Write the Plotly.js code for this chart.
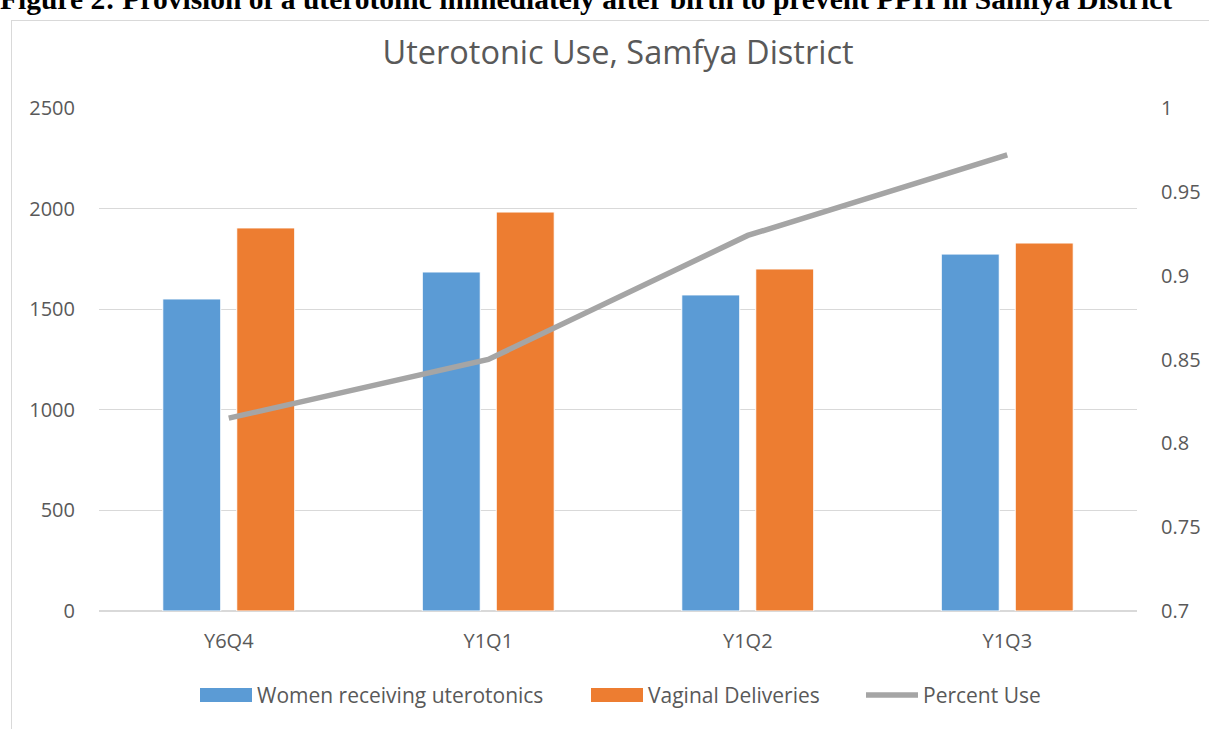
<!DOCTYPE html>
<html>
<head>
<meta charset="utf-8">
<script src="https://cdn.plot.ly/plotly-3.0.1.min.js"></script>
<style>
  html, body { margin: 0; padding: 0; background: #ffffff; overflow: hidden; }
  #caption {
    position: absolute; left: 0px; top: -16px; white-space: nowrap;
    font-family: "Liberation Serif", "Times New Roman", serif; font-weight: bold;
    font-size: 29.5px; line-height: 30px; color: #000000;
  }
  #frame {
    position: absolute; left: 11px; top: 20px; width: 1400px; height: 900px;
    border: 1px solid #d9d9d9; box-sizing: border-box;
  }
  #chart { position: absolute; left: 0; top: 0; width: 1209px; height: 729px; }
</style>
</head>
<body>
<div id="caption">Figure 2: Provision of a uterotonic immediately after birth to prevent PPH in Samfya District</div>
<div id="frame"></div>
<div id="chart"></div>
<script>
// ---- data ----
const categories = ["Y6Q4", "Y1Q1", "Y1Q2", "Y1Q3"];
const womenReceiving = [1551, 1685, 1571, 1774];
const vaginalDeliveries = [1904, 1983, 1700, 1829];
const percentUse = [0.815, 0.850, 0.924, 0.972];
const seriesNames = ["Women receiving uterotonics", "Vaginal Deliveries", "Percent Use"];
const leftTicks = [0, 500, 1000, 1500, 2000, 2500];
const rightTickVals = [0.7, 0.75, 0.8, 0.85, 0.9, 0.95, 1];
const rightTickText = ["0.7", "0.75", "0.8", "0.85", "0.9", "0.95", "1"];

// ---- style ----
const BLUE = "#5b9bd5", ORANGE = "#ed7d31", GRAY = "#a5a5a5", TXT = "#595959", GRID = "#d9d9d9";
const FONT = "Open Sans, Liberation Sans, sans-serif";

// plot area geometry in pixels
const W = 1209, H = 729, L = 99, R = 1137, T = 108, B = 611;
const px = x => (x - L) / (R - L);
const py = y => (B - y) / (B - T);

const traces = [
  { type: "bar", name: seriesNames[0], x: categories, y: womenReceiving,
    marker: { color: BLUE, line: { color: "#ffffff", width: 1 } }, hoverinfo: "skip" },
  { type: "bar", name: seriesNames[1], x: categories, y: vaginalDeliveries,
    marker: { color: ORANGE, line: { color: "#ffffff", width: 1 } }, hoverinfo: "skip" },
  { type: "scatter", mode: "lines", name: seriesNames[2], x: categories, y: percentUse,
    yaxis: "y2", line: { color: GRAY, width: 5.5 }, hoverinfo: "skip" }
];

// custom legend (swatches + labels)
const legY = 695;
const legendItems = [
  { kind: "rect", color: BLUE, x0: 200, x1: 252, text: seriesNames[0], tx: 255 },
  { kind: "rect", color: ORANGE, x0: 591, x1: 643, text: seriesNames[1], tx: 646 },
  { kind: "line", color: GRAY, x0: 866, x1: 918, text: seriesNames[2], tx: 921 }
];
const shapes = [];
const annotations = [];
legendItems.forEach(it => {
  if (it.kind === "rect") {
    shapes.push({ type: "rect", xref: "paper", yref: "paper",
      x0: px(it.x0), x1: px(it.x1), y0: py(legY + 7), y1: py(legY - 7),
      fillcolor: it.color, line: { width: 0 } });
  } else {
    shapes.push({ type: "line", xref: "paper", yref: "paper",
      x0: px(it.x0), x1: px(it.x1), y0: py(legY), y1: py(legY),
      line: { color: it.color, width: 5.5 } });
  }
  annotations.push({ xref: "paper", yref: "paper", x: px(it.tx), y: py(legY),
    xanchor: "left", yanchor: "middle", showarrow: false, text: it.text,
    font: { family: FONT, size: 21, color: TXT } });
});

const layout = {
  width: W, height: H,
  margin: { l: L, r: W - R, t: T, b: H - B, pad: 0 },
  paper_bgcolor: "rgba(0,0,0,0)", plot_bgcolor: "rgba(0,0,0,0)",
  font: { family: FONT, color: TXT, size: 20 },
  title: { text: "Uterotonic Use, Samfya District", x: 0.5, xref: "paper",
    y: 1 - 53 / H, yref: "container", xanchor: "center", yanchor: "middle",
    font: { family: FONT, size: 32.5, color: TXT } },
  showlegend: false,
  barmode: "group", bargap: 0.43, bargroupgap: 0.216,
  xaxis: { showgrid: false, zeroline: false, showline: false, ticks: "",
    tickfont: { family: FONT, size: 20, color: TXT }, ticklabelstandoff: 16, fixedrange: true },
  yaxis: { range: [0, 2500], tickvals: leftTicks, showgrid: true, gridcolor: GRID, gridwidth: 1.3,
    zeroline: true, zerolinecolor: GRID, zerolinewidth: 2, showline: false, ticks: "",
    tickfont: { family: FONT, size: 20, color: TXT }, ticklabelstandoff: 23, fixedrange: true },
  yaxis2: { overlaying: "y", side: "right", range: [0.7, 1], tickvals: rightTickVals, ticktext: rightTickText,
    showgrid: false, zeroline: false, showline: false, ticks: "",
    tickfont: { family: FONT, size: 20, color: TXT }, ticklabelstandoff: 23, fixedrange: true },
  shapes: shapes,
  annotations: annotations
};

Plotly.newPlot("chart", traces, layout, { displayModeBar: false, staticPlot: true });
</script>
</body>
</html>
